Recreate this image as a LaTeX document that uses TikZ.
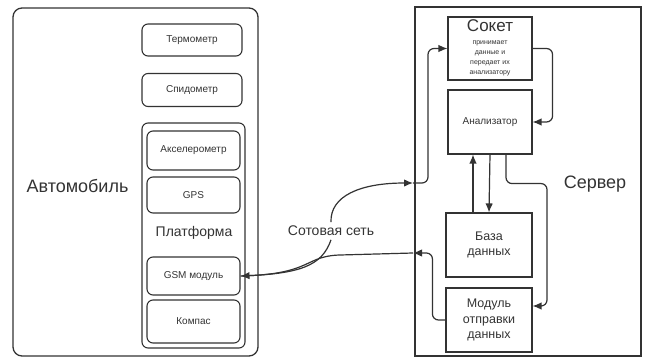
\documentclass[tikz,border=0pt]{standalone}
\usepackage{fontspec}
\setmainfont{Liberation Sans}
\usetikzlibrary{arrows.meta}

\begin{document}
\begin{tikzpicture}[x=1pt, y=-1pt, >={Latex[length=9pt,width=7.5pt]}, color=black!80, line width=1.1pt,
    sensor/.style={draw, rounded corners=6pt, inner sep=0pt, font=\fontsize{10}{12}\selectfont},
    unit/.style={draw, inner sep=0pt, align=center, font=\fontsize{12.5}{15.5}\selectfont},
    title/.style={font=\fontsize{18}{20}\selectfont},
    conn/.style={line width=1.2pt}]
    \useasboundingbox (0,0) rectangle (646,361);

    % car side
    \node[draw, line width=1.3pt, rounded corners=9pt, minimum width=245pt, minimum height=348pt] (car) at (135.5,182) {};
    \node[title] (carlabel) at (77.5,186) {Автомобиль};
    \node[sensor, minimum width=100pt, minimum height=32pt] (thermo) at (192,40) {Термометр};
    \node[sensor, minimum width=100pt, minimum height=33pt] (speedo) at (192,90) {Спидометр};
    \node[sensor, minimum width=103pt, minimum height=225pt] (platform) at (193.5,235.5) {};
    \node[sensor, minimum width=93pt, minimum height=39pt] (accel) at (193.5,150.5) {Акселерометр};
    \node[sensor, minimum width=93pt, minimum height=36pt] (gps) at (193.5,195) {GPS};
    \node[font=\fontsize{14}{16}\selectfont] (platlabel) at (194,233) {Платформа};
    \node[sensor, minimum width=93pt, minimum height=38pt] (gsm) at (193.5,276) {GSM модуль};
    \node[sensor, minimum width=93pt, minimum height=43pt] (compass) at (193.5,321.5) {Компас};

    % server side
    \node[draw, line width=1.3pt, minimum width=226pt, minimum height=349pt] (server) at (528,181.5) {};
    \node[title] (serverlabel) at (595,184) {Сервер};
    \node[unit, minimum width=84pt, minimum height=63pt] (socket) at (490,48.5) {};
    \node[font=\fontsize{17}{18}\selectfont] (sockettitle) at (490,26) {Сокет};
    \node[align=center, font=\fontsize{7}{10}\selectfont] (sockettext) at (490,58) {принимает\\данные и\\передает их\\анализатору};
    \node[unit, minimum width=84pt, minimum height=64pt, font=\fontsize{10}{12}\selectfont] (analyzer) at (490,122) {Анализатор};
    \node[unit, minimum width=86pt, minimum height=64pt] (db) at (489,245) {База\\данных};
    \node[unit, minimum width=86pt, minimum height=64pt] (sender) at (489,320) {Модуль\\отправки\\данных};

    % cellular network
    \node[font=\fontsize{14}{16}\selectfont] (net) at (331,231) {Сотовая сеть};
    \coordinate (inA) at (413,183);
    \coordinate (inB) at (413,253);

    % inside the server
    \draw[conn, ->, rounded corners=6pt] (socket.east) -- ++(20,0) |- (analyzer.east);
    \draw[conn, ->] ([xshift=-16pt]db.north) -- ([xshift=-17pt]analyzer.south);
    \draw[conn, ->] (analyzer.south) -- (db.north);
    \draw[conn, ->, rounded corners=6pt] ([xshift=16pt]analyzer.south) -- ++(0,29) -- ++(41,0) |- ([yshift=14pt]sender.east);

    % network links
    \draw[conn, ->] (net.north) .. controls (330,196) and (360,183) .. (inA);
    \draw[conn, ->, rounded corners=6pt] (inA) -- ++(15,0) |- (socket.west);
    \draw[conn, ->, rounded corners=6pt] (sender.west) -- ++(-13,0) |- (inB);
    \draw[conn, ->] (inB) -- (340,255) .. controls (305,256) and (312,273) .. (gsm.east);
    \draw[conn] (net.south) .. controls (322,266) and (300,274) .. (gsm.east);
\end{tikzpicture}
\end{document}
